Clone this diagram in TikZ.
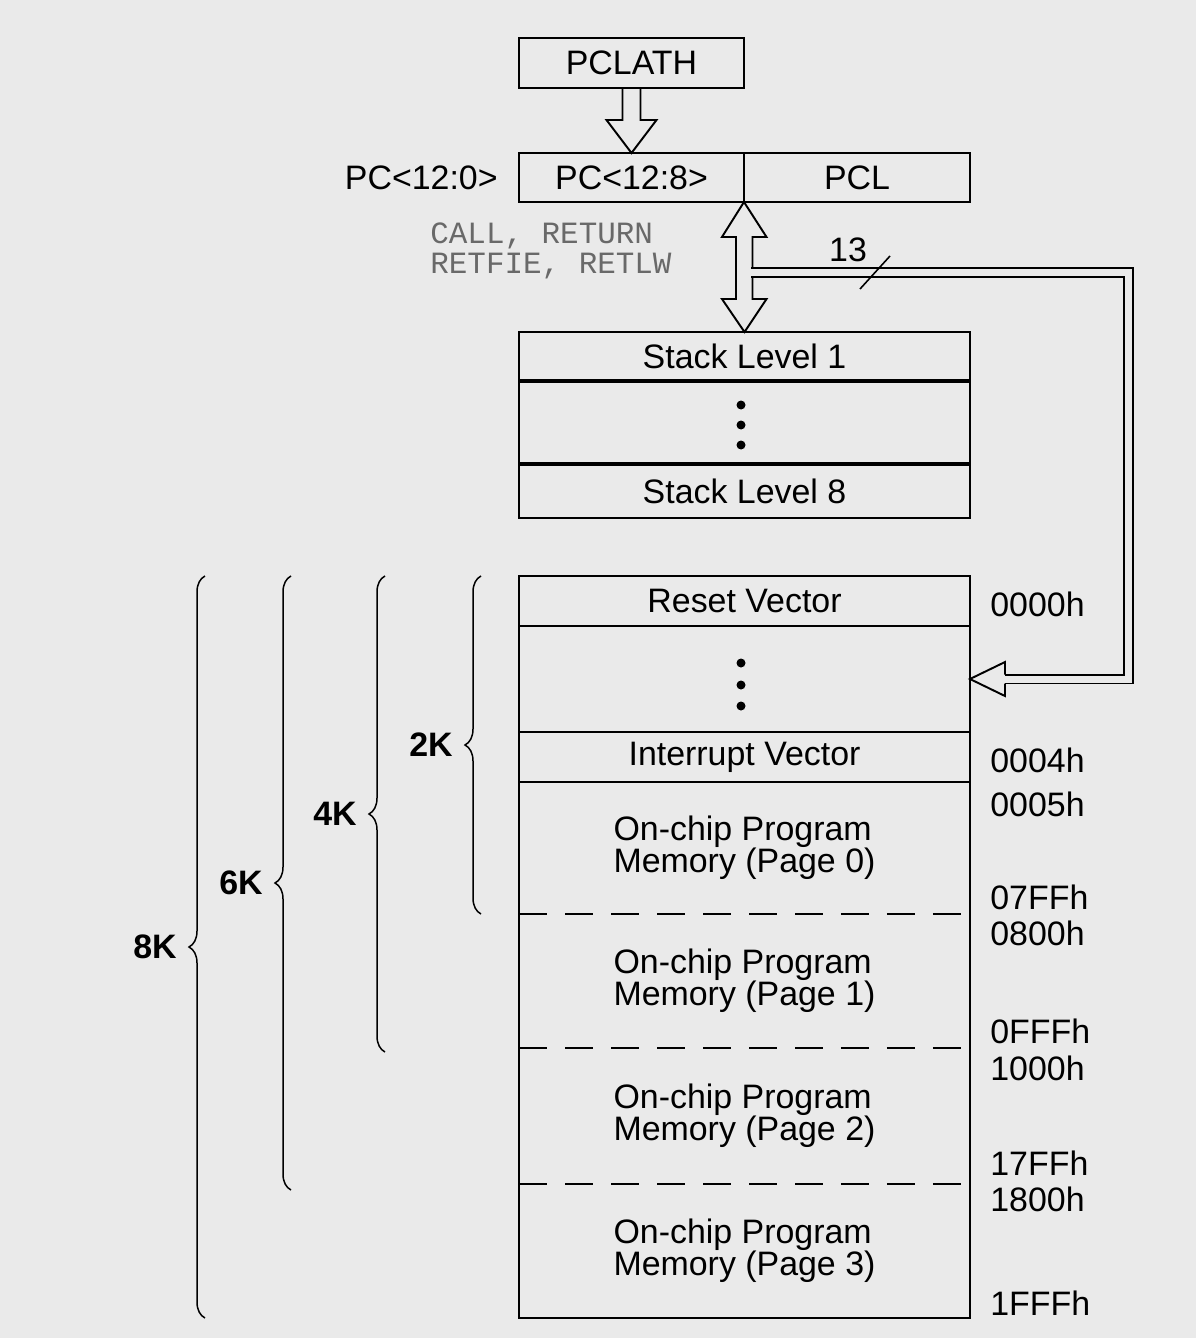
\documentclass[tikz,border=0pt]{standalone}
\usepackage{fontspec}
\setmainfont{Liberation Sans}
\setmonofont{Liberation Mono}
\usetikzlibrary{calc,decorations.pathreplacing}
\definecolor{paper}{RGB}{234,234,234}
\definecolor{codegray}{RGB}{105,105,105}
\newcommand{\bigtxt}{\fontsize{19.3}{18}\selectfont}
\newcommand{\codetxt}{\fontsize{17.6}{17.1}\selectfont\ttfamily}

\begin{document}
\begin{tikzpicture}[x=0.02cm,y=-0.02cm,line join=miter,
    box/.style={draw,line width=1.1pt,inner sep=0pt,outer sep=0pt,font=\bigtxt},
    cell/.style={inner sep=0pt,outer sep=0pt,minimum width=9.02cm,font=\bigtxt},
    addr/.style={anchor=west,inner sep=0pt,font=\bigtxt},
    klabel/.style={anchor=east,inner sep=0pt,font=\bigtxt\bfseries},
    kbrace/.style={decorate,decoration={brace,amplitude=0.32cm},line width=0.85pt},
    pagesep/.style={line width=0.8pt,dash pattern=on 0.56cm off 0.36cm},
    hol/.style={draw,line width=1.1pt},
    bus/.style={draw,line width=1.1pt,double=paper,double distance=0.14cm}]
  \fill[paper] (0,0) rectangle (1196,1338);
  \useasboundingbox (0,0) rectangle (1196,1338);

  % registers
  \node[box,minimum width=4.5cm,minimum height=1cm] (pclath) at (631.5,63) {PCLATH};
  \node[box,minimum width=4.5cm,minimum height=0.98cm] (pchi) at (631.5,177.5) {PC<12:8>};
  \node[box,minimum width=4.52cm,minimum height=0.98cm] (pcl) at (857,177.5) {PCL};
  \node[anchor=east,inner sep=0pt,font=\bigtxt] (pcall) at (498,178) {PC<12:0>};
  \node[anchor=west,inner sep=0pt,align=left,font=\codetxt,text=codegray] (calls) at (430,251) {CALL, RETURN\\RETFIE, RETLW};

  % stack
  \node[box,cell,minimum height=0.98cm] (stk1) at (744.5,356.5) {Stack Level 1};
  \node[box,cell,minimum height=1.66cm] (stkm) at (744.5,422.5) {};
  \node[box,cell,minimum height=1.08cm] (stk8) at (744.5,491) {Stack Level 8};
  \draw[line width=2.2pt] (stk1.south west) -- (stk1.south east);
  \draw[line width=2.2pt] (stk8.north west) -- (stk8.north east);
  \foreach \y in {405,425,445} \fill (741,\y) circle (0.09cm);

  % program memory
  \node[box,cell,minimum height=1cm] (rst) at (744.5,601) {Reset Vector};
  \node[box,cell,minimum height=2.12cm] (mdot) at (744.5,679) {};
  \node[box,cell,minimum height=1cm] (irq) at (744.5,757) {Interrupt Vector};
  \node[cell,align=left,minimum height=2.64cm] (pg0) at (744.5,848) {On-chip Program\\Memory (Page 0)};
  \node[cell,align=left,minimum height=2.68cm] (pg1) at (744.5,981) {On-chip Program\\Memory (Page 1)};
  \node[cell,align=left,minimum height=2.72cm] (pg2) at (744.5,1116) {On-chip Program\\Memory (Page 2)};
  \node[cell,align=left,minimum height=2.68cm] (pg3) at (744.5,1251) {On-chip Program\\Memory (Page 3)};
  \draw[line width=1.1pt] (irq.south west) rectangle (pg3.south east);
  \foreach \p in {pg0,pg1,pg2} \draw[pagesep] (\p.south west) -- (\p.south east);
  \foreach \y in {663,685,706} \fill (741,\y) circle (0.09cm);

  % addresses
  \foreach \a/\y in {0000h/604,0004h/760,0005h/804,07FFh/897,0800h/933,
                     0FFFh/1031,1000h/1068,17FFh/1163,1800h/1199,1FFFh/1303}
    \node[addr] (a\a) at (990,\y) {\a};

  % page sizes
  \foreach \k/\b/\x in {2/914/481,4/1052/385,6/1190/291,8/1318/205} {
    \draw[kbrace] (\x,\b) -- (\x,576);
    \node[klabel] (k\k) at ($(\x,576)!0.5!(\x,\b)+(-28,0)$) {\k K};
  }

  % hollow arrows and bus
  \draw[hol] ($(pclath.south)+(-9,0)$) -- ++(0,32) -- ++(-16,0) -- (pchi.north)
    -- ++(25,-33) -- ++(-16,0) -- ++(0,-32);
  \draw[hol] (pchi.south east) -- ++(-22,35) -- ++(14,0) -- ++(0,62) -- ++(-14,0)
    -- (stk1.north) -- ++(22,-33) -- ++(-14,0) -- ++(0,-62) -- ++(14,0) -- cycle;
  \coordinate (busl) at (751,272.5);
  \coordinate (busr) at (1128.5,679);
  \coordinate (buse) at (1005,679);
  \draw[bus] (busl) -| (busr) -- (buse);
  \draw[hol] ($(buse)+(0,-4.5)$) -- ++(0,-12.5) -- (mdot.east) -- ++(35,17) -- ++(0,-12.5);
  \draw[line width=0.9pt] (860,289) -- (890,256);
  \node[inner sep=0pt,font=\bigtxt] (bw) at (848,250) {13};
\end{tikzpicture}
\end{document}
